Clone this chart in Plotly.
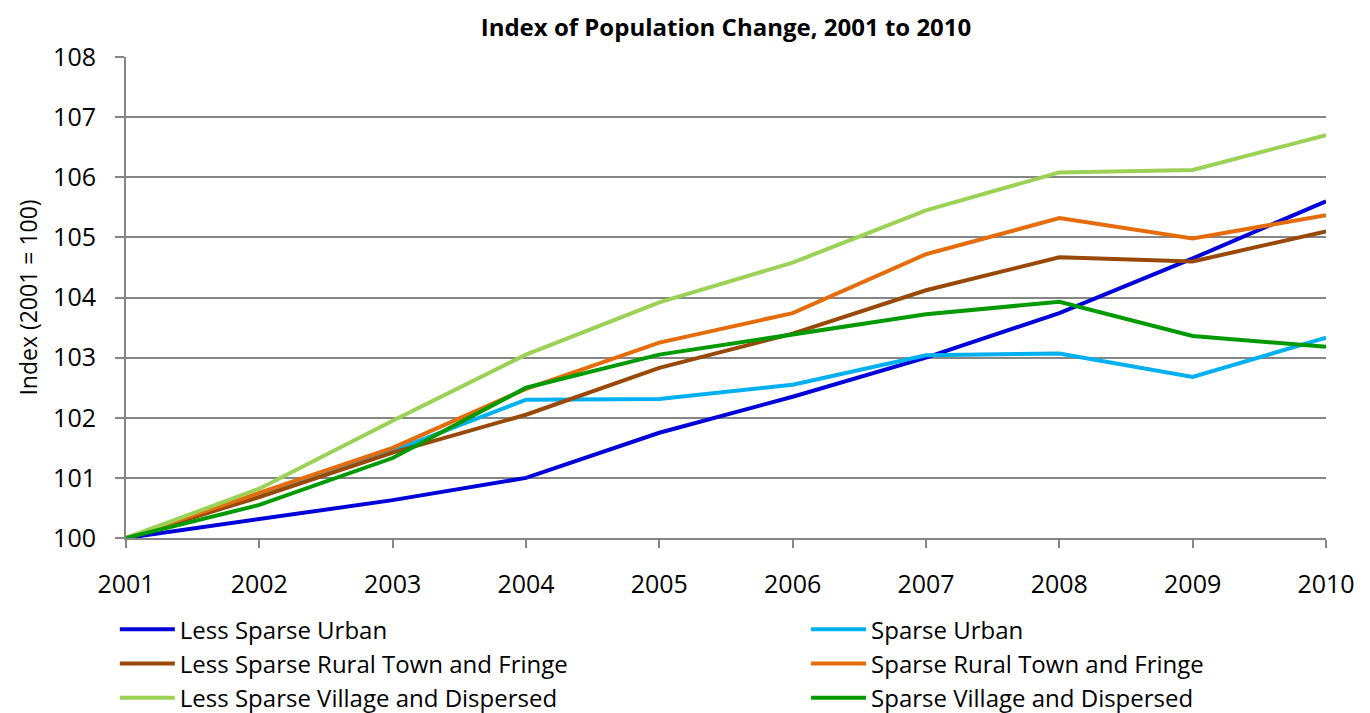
import plotly.graph_objects as go

years = [2001, 2002, 2003, 2004, 2005, 2006, 2007, 2008, 2009, 2010]
series_names = [
    "Less Sparse Urban",
    "Sparse Urban",
    "Less Sparse Rural Town and Fringe",
    "Sparse Rural Town and Fringe",
    "Less Sparse Village and Dispersed",
    "Sparse Village and Dispersed",
]
less_sparse_urban = [100, 100.32, 100.63, 101.0, 101.75, 102.35, 103.0, 103.74, 104.65, 105.6]
sparse_urban = [100, 100.72, 101.45, 102.3, 102.31, 102.55, 103.04, 103.07, 102.68, 103.33]
less_sparse_rural_town = [100, 100.68, 101.42, 102.05, 102.83, 103.4, 104.12, 104.67, 104.6, 105.1]
sparse_rural_town = [100, 100.75, 101.5, 102.48, 103.25, 103.74, 104.72, 105.32, 104.98, 105.37]
less_sparse_village = [100, 100.82, 101.95, 103.05, 103.92, 104.58, 105.45, 106.08, 106.12, 106.7]
sparse_village = [100, 100.55, 101.33, 102.5, 103.05, 103.38, 103.72, 103.93, 103.36, 103.18]

values = [less_sparse_urban, sparse_urban, less_sparse_rural_town,
          sparse_rural_town, less_sparse_village, sparse_village]
colors = ["#0000D8", "#00B0F0", "#984807", "#E46C0A", "#9BD155", "#009A00"]
legend_ids = ["legend", "legend2", "legend", "legend2", "legend", "legend2"]

fig = go.Figure()
for i, (name, vals, col, lg) in enumerate(zip(series_names, values, colors, legend_ids)):
    fig.add_trace(go.Scatter(x=years, y=vals, name=name, mode="lines",
                             legend=lg, legendgroup=f"g{i}",
                             line=dict(color=col, width=4)))

font_family = "'Open Sans', sans-serif"
legend_common = dict(orientation="v", yanchor="top", y=-0.144,
                     itemwidth=55, tracegroupgap=0,
                     font=dict(family=font_family, size=24, color="black"),
                     bgcolor="rgba(0,0,0,0)", borderwidth=0)
fig.update_layout(
    width=1370, height=713,
    margin=dict(l=118, r=52, t=49, b=183, autoexpand=False),
    paper_bgcolor="white", plot_bgcolor="white",
    title=dict(text="<b>Index of Population Change, 2001 to 2010</b>",
               x=0.5, xref="paper", xanchor="center", y=0.972, yanchor="middle",
               font=dict(family=font_family, size=24, color="black")),
    font=dict(family=font_family, color="black"),
    showlegend=True,
    legend=dict(x=-0.0093, xanchor="left", **legend_common),
    legend2=dict(x=0.5667, xanchor="left", **legend_common),
)
fig.update_xaxes(
    range=[2001, 2010], tickmode="array", tickvals=years,
    ticktext=[str(y) for y in years],
    showgrid=False, showline=True, linecolor="#868686", linewidth=2,
    ticks="outside", ticklen=8, tickcolor="#868686", tickwidth=2,
    tickfont=dict(size=25, family=font_family), ticklabelstandoff=15,
    zeroline=False, fixedrange=True,
)
fig.update_yaxes(
    range=[100, 108], dtick=1, tick0=100,
    showgrid=True, gridcolor="#868686", gridwidth=2,
    showline=True, linecolor="#868686", linewidth=2,
    ticks="outside", ticklen=9, tickcolor="#868686", tickwidth=2,
    tickfont=dict(size=25, family=font_family), ticklabelstandoff=14,
    title=dict(text="Index (2001 = 100)", font=dict(size=23, family=font_family), standoff=9),
    zeroline=False, fixedrange=True,
)
fig.write_html("out.html")
